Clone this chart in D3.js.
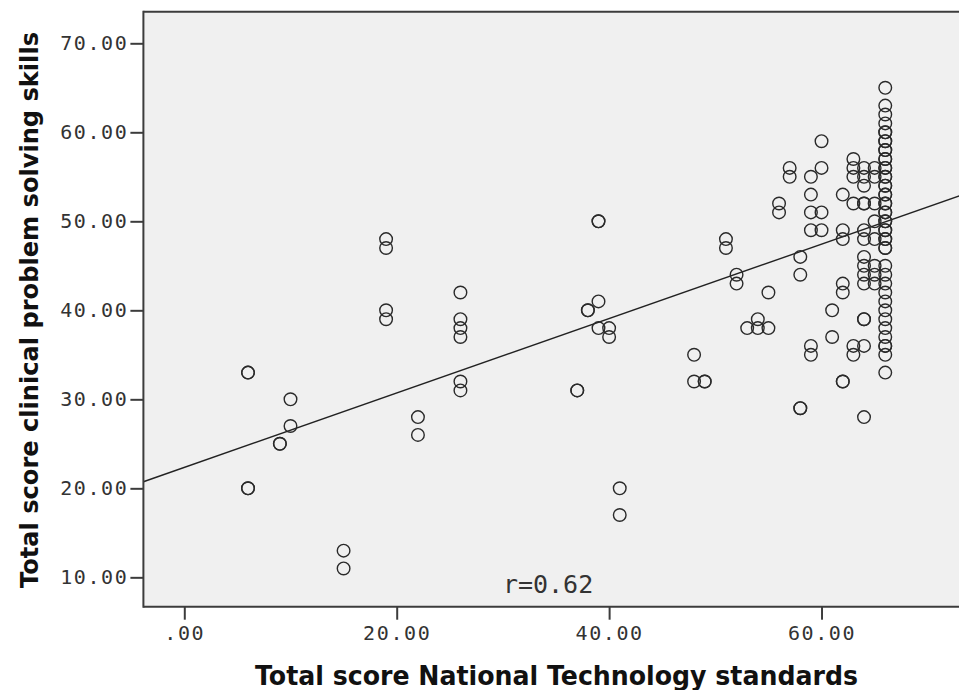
<!DOCTYPE html>
<html>
<head>
<meta charset="utf-8">
<script src="https://cdn.jsdelivr.net/npm/d3@7/dist/d3.min.js"></script>
<style>
	body { margin: 0; background: #fff; }
</style>
</head>
<body>
<svg id="chart" width="959" height="690"></svg>
<script>
// NTS total score (x) and the clinical problem solving scores seen at that x
var ntsScores = [6, 9, 10, 15, 19, 22, 26, 37, 38, 39, 40, 41, 48, 49, 51, 52, 53, 54, 55, 56, 57, 58, 59, 60, 61, 62, 63, 64, 65, 66];
var cpsScores = [
	[33, 33, 20, 20],
	[25, 25],
	[30, 27],
	[13, 11],
	[48, 47, 40, 39],
	[28, 26],
	[42, 39, 38, 37, 32, 31],
	[31, 31],
	[40, 40],
	[50, 50, 41, 38],
	[38, 37],
	[20, 17],
	[35, 32],
	[32, 32],
	[48, 47],
	[44, 43],
	[38],
	[39, 38],
	[42, 38],
	[52, 51],
	[56, 55],
	[46, 44, 29, 29],
	[55, 53, 51, 49, 36, 35],
	[59, 56, 51, 49],
	[40, 37],
	[53, 49, 48, 43, 42, 32, 32],
	[57, 56, 55, 52, 36, 35],
	[56, 55, 54, 52, 52, 49, 48, 46, 45, 44, 43, 39, 39, 36, 28],
	[56, 55, 52, 50, 48, 45, 44, 43],
	[65, 63, 62, 61, 60, 60, 59, 59, 58, 58, 57, 57, 56, 56, 55, 55, 54, 54, 53, 53, 52, 52, 51, 51, 50, 50, 49, 49, 48, 48,
	 47, 47, 45, 44, 43, 42, 41, 40, 39, 38, 37, 36, 36, 35, 33]
];

var xTicks = [0, 20, 40, 60];
var xTickLabels = ['.00', '20.00', '40.00', '60.00'];
var yTicks = [10, 20, 30, 40, 50, 60, 70];
var yTickLabels = ['10.00', '20.00', '30.00', '40.00', '50.00', '60.00', '70.00'];

var fitIntercept = 22.35;
var fitSlope = 0.418;
var rLabel = 'r=0.62';

var xTitle = 'Total score National Technology standards';
var yTitle = 'Total score clinical problem solving skills';

var points = [];
ntsScores.forEach(function(x, i){
	cpsScores[i].forEach(function(y){ points.push({x: x, y: y}); });
});

var plot = {left: 143.4, right: 959.6, top: 11.7, bottom: 606.7};

var svg = d3.select('#chart');

var x = d3.scaleLinear()
	.domain([-3.85, 73])
	.range([plot.left, plot.right]);

var y = d3.scaleLinear()
	.domain([6.7, 73.55])
	.range([plot.bottom, plot.top]);

//Plot background
svg.append('rect')
	.attr('x', plot.left)
	.attr('y', plot.top)
	.attr('width', plot.right - plot.left + 10)
	.attr('height', plot.bottom - plot.top)
	.attr('fill', '#f0f0f0');

//Fit line
var xd = x.domain();
svg.append('line')
	.attr('x1', x(xd[0]))
	.attr('y1', y(fitIntercept + fitSlope * xd[0]))
	.attr('x2', x(xd[1]))
	.attr('y2', y(fitIntercept + fitSlope * xd[1]))
	.attr('stroke', '#222')
	.attr('stroke-width', 1.4);

//Points
svg.append('g')
	.selectAll('circle')
	.data(points)
	.enter()
	.append('circle')
		.attr('cx', d => x(d.x))
		.attr('cy', d => y(d.y))
		.attr('r', 6.3)
		.attr('fill', 'none')
		.attr('stroke', '#2a2a2a')
		.attr('stroke-width', 1.4);

//Frame (right side is outside the picture)
var frame = svg.append('g')
	.attr('stroke', '#3c3c3c')
	.attr('stroke-width', 2);
frame.append('line').attr('x1', plot.left).attr('x2', plot.right + 10).attr('y1', plot.top).attr('y2', plot.top);
frame.append('line').attr('x1', plot.left).attr('x2', plot.right + 10).attr('y1', plot.bottom).attr('y2', plot.bottom);
frame.append('line').attr('x1', plot.left).attr('x2', plot.left).attr('y1', plot.top - 1).attr('y2', plot.bottom + 1);

//Axes
var xAxis = d3.axisBottom(x)
	.tickValues(xTicks)
	.tickSize(13)
	.tickPadding(6)
	.tickFormat((d, i) => xTickLabels[i]);

var yAxis = d3.axisLeft(y)
	.tickValues(yTicks)
	.tickSize(13)
	.tickPadding(2)
	.tickFormat((d, i) => yTickLabels[i]);

svg.append('g')
	.attr('transform', 'translate(0,' + plot.bottom + ')')
	.call(xAxis);

svg.append('g')
	.attr('transform', 'translate(' + plot.left + ',0)')
	.call(yAxis);

svg.selectAll('.domain').remove();
svg.selectAll('.tick line')
	.attr('stroke', '#3c3c3c')
	.attr('stroke-width', 2);
svg.selectAll('.tick text')
	.attr('fill', '#333')
	.style('font-family', 'DejaVu Sans Mono')
	.style('font-size', '20px')
	.style('letter-spacing', '1.6px');

svg.append('text')
	.attr('x', x(30))
	.attr('y', y(8.27))
	.attr('fill', '#333')
	.style('font-family', 'DejaVu Sans Mono')
	.style('font-size', '25px')
	.text(rLabel);

//Titles
svg.append('text')
	.attr('x', 556.5)
	.attr('y', 685)
	.attr('text-anchor', 'middle')
	.attr('textLength', 603)
	.attr('lengthAdjust', 'spacingAndGlyphs')
	.style('font-family', 'DejaVu Sans')
	.style('font-weight', 'bold')
	.style('font-size', '26px')
	.attr('fill', '#111')
	.text(xTitle);

svg.append('text')
	.attr('transform', 'translate(38,310) rotate(-90)')
	.attr('text-anchor', 'middle')
	.attr('textLength', 556)
	.attr('lengthAdjust', 'spacingAndGlyphs')
	.style('font-family', 'DejaVu Sans')
	.style('font-weight', 'bold')
	.style('font-size', '25px')
	.attr('fill', '#111')
	.text(yTitle);
</script>
</body>
</html>
